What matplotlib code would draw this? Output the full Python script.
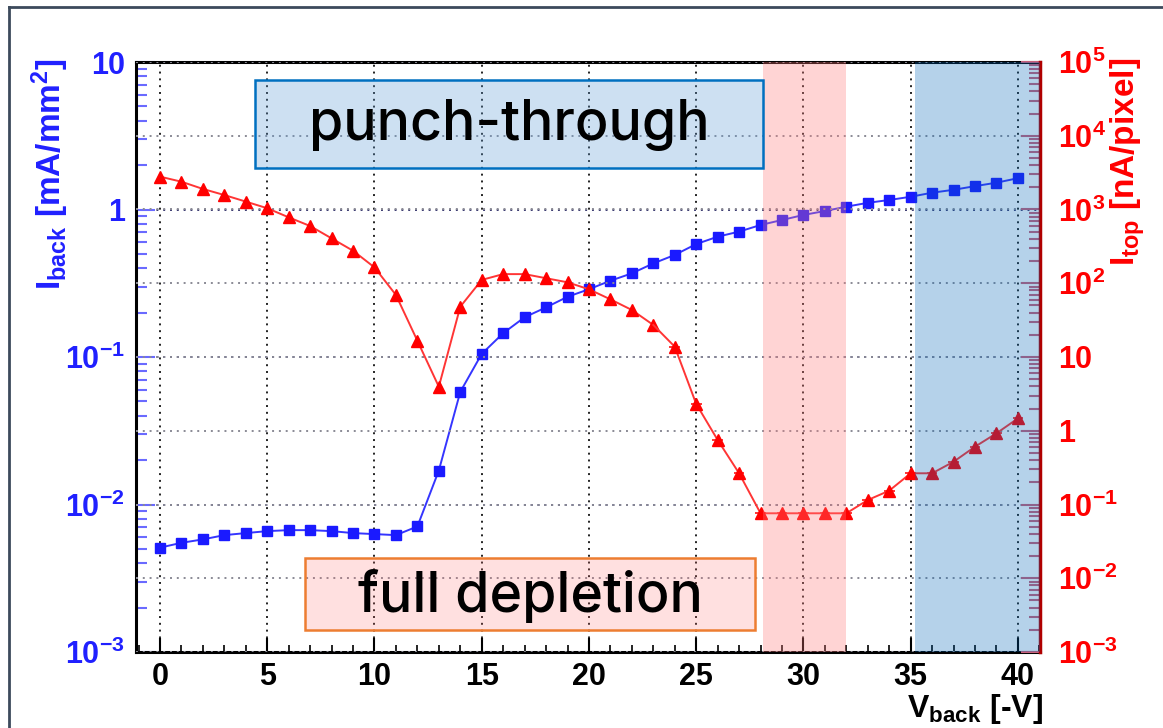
import matplotlib
matplotlib.use("Agg")
import math
import matplotlib.pyplot as plt
from matplotlib.patches import Rectangle
from matplotlib.lines import Line2D
from matplotlib.ticker import LogLocator, FuncFormatter, MultipleLocator, NullFormatter

# back-side bias scan
v_back = list(range(0, 41))
i_back = [0.0051, 0.0055, 0.0058, 0.0062, 0.0064, 0.0066, 0.0067, 0.0067, 0.0066, 0.0064,
          0.0063, 0.0062, 0.0071, 0.017, 0.058, 0.105, 0.145, 0.186, 0.217, 0.256,
          0.288, 0.329, 0.369, 0.431, 0.492, 0.583, 0.654, 0.708, 0.785, 0.849,
          0.918, 0.977, 1.045, 1.11, 1.16, 1.22, 1.30, 1.36, 1.44, 1.52, 1.63]
i_top = [2790, 2380, 1900, 1570, 1280, 1040, 783, 597, 406, 276,
         164, 69.3, 16.6, 3.95, 48.1, 111, 133, 133, 117, 103,
         82.8, 60.5, 43.4, 27.2, 13.8, 2.31, 0.75, 0.265, 0.076, 0.076,
         0.076, 0.076, 0.076, 0.115, 0.154, 0.265, 0.265, 0.38, 0.608, 0.923, 1.47]

full_depletion = (28.1, 32.0)
punch_through = (35.2, 41.03)

plt.rcParams['font.family'] = ['Liberation Sans', 'DejaVu Sans']
plt.rcParams['font.weight'] = 'bold'
plt.rcParams['mathtext.default'] = 'regular'

BLUE = '#1a1aff'
RED = '#ff0000'

fig = plt.figure(figsize=(11.63, 7.28), dpi=100)
ax = fig.add_axes([136 / 1163, 1 - 652 / 728, 904 / 1163, 590 / 728])
ax2 = ax.twinx()


def log_label(v, pos):
    e = int(round(math.log10(v)))
    if e == 0:
        return '1'
    if e == 1:
        return '10'
    return r'$10^{%d}$' % e


# left axis: I_back
ax.plot(v_back, i_back, color='#3535ff', lw=1.4, marker='s', ms=7,
        mfc=BLUE, mec=BLUE, zorder=3)
ax.set_yscale('log')
ax.set_ylim(1e-3, 10)
ax.set_xlim(-1.12, 41.03)
ax.yaxis.set_major_locator(LogLocator(base=10, numticks=10))
ax.yaxis.set_minor_locator(LogLocator(base=10, subs=range(2, 10), numticks=50))
ax.yaxis.set_major_formatter(FuncFormatter(log_label))
ax.yaxis.set_minor_formatter(NullFormatter())
ax.xaxis.set_major_locator(MultipleLocator(5))
ax.xaxis.set_minor_locator(MultipleLocator(1))
ax.tick_params(axis='y', which='both', direction='in', colors='#2020ff',
               labelsize=22, pad=8)
ax.tick_params(axis='y', which='major', length=14, width=1.5, color='#6a6aff')
ax.tick_params(axis='y', which='minor', length=8, width=1.5, color='#6a6aff')
ax.tick_params(axis='x', which='both', direction='in', colors='black',
               labelsize=22, pad=7)
ax.tick_params(axis='x', which='major', length=10, width=1.5)
ax.tick_params(axis='x', which='minor', length=5, width=1.2)
ax.grid(axis='x', which='major', color='#222222', ls=(0, (1, 2.5)), lw=1.4)
ax.grid(axis='y', which='major', color='#3a3a70', ls=(0, (1, 2.5)), lw=1.4)
for sp in ['left', 'bottom', 'top']:
    ax.spines[sp].set_linewidth(2.2)
    ax.spines[sp].set_color('black')

# right axis: I_top
ax2.plot(v_back[:24], i_top[:24], color='#ff3535', lw=1.4, marker='^', ms=8,
         mfc=RED, mec=RED, zorder=3)
ax2.errorbar(v_back[24:], i_top[24:], xerr=0.25, color='#ff3535', lw=1.4,
             marker='^', ms=8, mfc=RED, mec=RED, capsize=0, zorder=3)
ax2.plot(v_back[23:25], i_top[23:25], color='#ff3535', lw=1.4, zorder=3)
ax2.set_yscale('log')
ax2.set_ylim(1e-3, 1e5)
ax2.yaxis.set_major_locator(LogLocator(base=10, numticks=20))
ax2.yaxis.set_minor_locator(LogLocator(base=10, subs=range(2, 10), numticks=100))
ax2.yaxis.set_major_formatter(FuncFormatter(log_label))
ax2.yaxis.set_minor_formatter(NullFormatter())
ax2.tick_params(axis='y', which='both', direction='in', colors=RED,
                labelsize=22, pad=13)
ax2.tick_params(axis='y', which='major', length=14, width=1.5, color='#c8607a')
ax2.tick_params(axis='y', which='minor', length=8, width=1.5, color='#c8607a')
ax2.grid(axis='y', which='major', color='#8a8a95', ls=(0, (1, 2.5)), lw=1.4)
ax2.spines['right'].set_color('#b00000')
ax2.spines['right'].set_linewidth(2.5)
for sp in ['left', 'bottom', 'top']:
    ax2.spines[sp].set_visible(False)

# shaded voltage ranges, drawn over both curves
ax2.axvspan(*full_depletion, color='#ff7c7c', alpha=0.32, lw=0, zorder=5)
ax2.axvspan(*punch_through, color='#0067b7', alpha=0.29, lw=0, zorder=5)

# annotation boxes
ax2.add_patch(Rectangle((0.1316, 0.820), 0.562, 0.1495, transform=ax2.transAxes,
                        facecolor=(0.357, 0.608, 0.835, 0.3), edgecolor='#0070c0',
                        lw=1.8, zorder=6))
ax2.text(0.413, 0.893, 'punch-through', transform=ax2.transAxes, ha='center',
         va='center', fontsize=40, family='Inter', weight='medium',
         color='black', zorder=7)
ax2.add_patch(Rectangle((0.187, 0.0373), 0.4977, 0.1217, transform=ax2.transAxes,
                        facecolor=(1.0, 0.4, 0.4, 0.2), edgecolor='#ed7d31',
                        lw=1.8, zorder=6))
ax2.text(0.436, 0.095, 'full depletion', transform=ax2.transAxes, ha='center',
         va='center', fontsize=40, family='Inter', weight='medium',
         color='black', zorder=7)

# axis titles
fig.text(50 / 1163, 1 - 58 / 728, r'$I_{back}$ [mA/mm$^{2}$]', rotation=90,
         ha='center', va='top', fontsize=24, color='#2020ff')
fig.text(1128 / 1163, 1 - 58 / 728, r'$I_{top}$ [nA/pixel]', rotation=90,
         ha='center', va='top', fontsize=24, color=RED)
fig.text(1043 / 1163, 1 - 726 / 728, r'$V_{back}$ [-V]', ha='right',
         va='bottom', fontsize=23, color='black')

# slide frame
fig.add_artist(Line2D([9 / 1163, 9 / 1163], [0, 1 - 7 / 728],
                      transform=fig.transFigure, color='#3c4a5c', lw=2))
fig.add_artist(Line2D([9 / 1163, 1], [1 - 7 / 728, 1 - 7 / 728],
                      transform=fig.transFigure, color='#3c4a5c', lw=2))

fig.savefig('out.png', dpi=100)
